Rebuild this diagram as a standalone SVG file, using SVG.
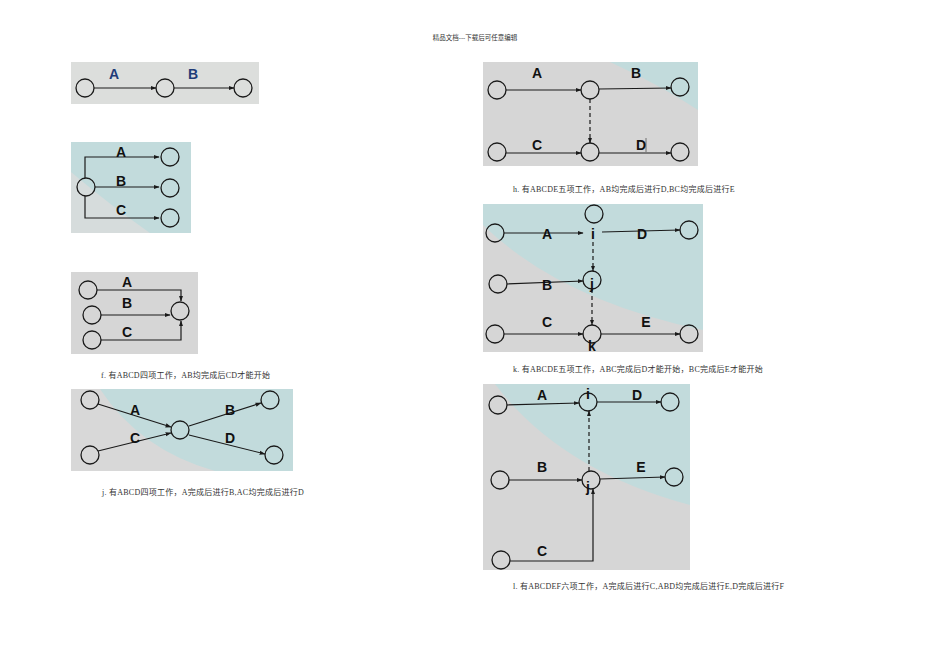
<svg xmlns="http://www.w3.org/2000/svg" width="950" height="672" viewBox="0 0 950 672">
<style>
.n{fill:none;stroke:#1a1a1a;stroke-width:1.3}
.e{fill:none;stroke:#1a1a1a;stroke-width:1.2}
.d{fill:none;stroke:#1a1a1a;stroke-width:1.2;stroke-dasharray:4 3}
.l{font-family:"Liberation Sans",Arial,sans-serif;font-weight:bold;font-size:14px;fill:#111;text-anchor:middle}
.lb{font-family:"Liberation Sans",Arial,sans-serif;font-weight:bold;font-size:14px;fill:#1f3c78;text-anchor:middle}
.c{font-family:"Liberation Serif","Noto Sans CJK SC",serif;font-size:8px;letter-spacing:0.25px;fill:#333}
.t{fill:#c2dbdc}
</style>
<defs>
<marker id="a" viewBox="0 0 10 10" refX="9" refY="5" markerWidth="6" markerHeight="6" orient="auto-start-reverse" markerUnits="userSpaceOnUse"><path d="M0,1.5 L10,5 L0,8.5 z" fill="#1a1a1a"/></marker>
<clipPath id="c2"><rect x="71" y="142" width="120" height="91"/></clipPath>
<clipPath id="c4"><rect x="71" y="389" width="222" height="82"/></clipPath>
<clipPath id="c5"><rect x="483" y="62" width="215" height="104"/></clipPath>
<clipPath id="c6"><rect x="483" y="204" width="220" height="148"/></clipPath>
<clipPath id="c7"><rect x="483" y="384" width="207" height="186"/></clipPath>
</defs>
<rect width="950" height="672" fill="#fff"/>
<text x="475" y="40" class="c" text-anchor="middle" style="font-size:6.5px;letter-spacing:0">精品文档---下载后可任意编辑</text>

<!-- Panel 1 -->
<g id="p1">
<rect x="71" y="62" width="188" height="42" fill="#dcdedc"/>
<g id="p1n1"><circle cx="85" cy="88" r="9" class="n"/></g>
<g id="p1n2"><circle cx="165" cy="88" r="9" class="n"/></g>
<g id="p1n3"><circle cx="243" cy="88" r="9" class="n"/></g>
<g id="p1e">
<path d="M94,88 H156" class="e" marker-end="url(#a)"/>
<path d="M174,88 H234" class="e" marker-end="url(#a)"/>
</g>
<text x="114" y="79" class="lb">A</text>
<text x="193" y="79" class="lb">B</text>
</g>

<!-- Panel 2 -->
<g id="p2">
<g clip-path="url(#c2)">
<rect x="71" y="142" width="120" height="91" class="t"/>
<path d="M71,172 Q110,205 150,233 L71,233 Z" fill="#d6dcdc"/>
</g>
<g id="p2n1"><circle cx="86" cy="187" r="9" class="n"/></g>
<g id="p2n2"><circle cx="170" cy="157" r="9" class="n"/></g>
<g id="p2n3"><circle cx="170" cy="188" r="9" class="n"/></g>
<g id="p2n4"><circle cx="170" cy="218" r="9" class="n"/></g>
<g id="p2e">
<path d="M85,178 V157 H159" class="e" marker-end="url(#a)"/>
<path d="M95,187 H159" class="e" marker-end="url(#a)"/>
<path d="M85,196 V218 H159" class="e" marker-end="url(#a)"/>
</g>
<text x="121" y="157" class="l">A</text>
<text x="121" y="186" class="l">B</text>
<text x="121" y="215" class="l">C</text>
</g>

<!-- Panel 3 -->
<g id="p3">
<rect x="71" y="272" width="127" height="82" fill="#d6d6d6"/>
<g id="p3n1"><circle cx="88" cy="290" r="9" class="n"/></g>
<g id="p3n2"><circle cx="92" cy="315" r="9" class="n"/></g>
<g id="p3n3"><circle cx="92" cy="340" r="9" class="n"/></g>
<g id="p3n4"><circle cx="180" cy="311" r="9" class="n"/></g>
<g id="p3e">
<path d="M97,290 H181 V301" class="e" marker-end="url(#a)"/>
<path d="M101,315 H170" class="e" marker-end="url(#a)"/>
<path d="M101,340 H181 V321" class="e" marker-end="url(#a)"/>
</g>
<text x="127" y="287" class="l">A</text>
<text x="127" y="308" class="l">B</text>
<text x="127" y="337" class="l">C</text>
<text x="101" y="378" class="c">f.  有ABCD四项工作，AB均完成后CD才能开始</text>
</g>

<!-- Panel 4 -->
<g id="p4">
<g clip-path="url(#c4)">
<rect x="71" y="389" width="222" height="82" fill="#d8d8d8"/>
<path d="M100,389 Q140,450 215,471 L293,471 L293,389 Z" class="t"/>
</g>
<g id="p4n1"><circle cx="90" cy="400" r="9" class="n"/></g>
<g id="p4n2"><circle cx="90" cy="455" r="9" class="n"/></g>
<g id="p4n3"><circle cx="180" cy="430" r="9" class="n"/></g>
<g id="p4n4"><circle cx="270" cy="400" r="9" class="n"/></g>
<g id="p4n5"><circle cx="274" cy="455" r="9" class="n"/></g>
<g id="p4e">
<path d="M98,404 L171,427" class="e" marker-end="url(#a)"/>
<path d="M98,451 L171,433" class="e" marker-end="url(#a)"/>
<path d="M189,426 L261,403" class="e" marker-end="url(#a)"/>
<path d="M189,435 L265,454" class="e" marker-end="url(#a)"/>
</g>
<text x="135" y="415" class="l">A</text>
<text x="135" y="443" class="l">C</text>
<text x="230" y="415" class="l">B</text>
<text x="230" y="443" class="l">D</text>
<text x="102" y="495" class="c">j.  有ABCD四项工作，A完成后进行B,AC均完成后进行D</text>
</g>

<!-- Panel 5 -->
<g id="p5">
<g clip-path="url(#c5)">
<rect x="483" y="62" width="215" height="104" fill="#d6d6d6"/>
<path d="M610,62 Q660,85 698,110 L698,62 Z" class="t"/>
</g>
<g id="p5n1"><circle cx="497" cy="90" r="9" class="n"/></g>
<g id="p5n2"><circle cx="590" cy="90" r="9" class="n"/></g>
<g id="p5n3"><circle cx="680" cy="87" r="9" class="n"/></g>
<g id="p5n4"><circle cx="497" cy="152" r="9" class="n"/></g>
<g id="p5n5"><circle cx="590" cy="152" r="9" class="n"/></g>
<g id="p5n6"><circle cx="680" cy="152" r="9" class="n"/></g>
<g id="p5e">
<path d="M506,90 H581" class="e" marker-end="url(#a)"/>
<path d="M599,89 L671,88" class="e" marker-end="url(#a)"/>
<path d="M590,99 V143" class="d" marker-end="url(#a)"/>
<path d="M506,153 H581" class="e" marker-end="url(#a)"/>
<path d="M599,153 H671" class="e" marker-end="url(#a)"/>
</g>
<line x1="646" y1="138" x2="646" y2="152" stroke="#555" stroke-width="0.8"/>
<text x="537" y="78" class="l">A</text>
<text x="636" y="78" class="l">B</text>
<text x="537" y="150" class="l">C</text>
<text x="641" y="150" class="l">D</text>
<text x="513" y="192" class="c">h.  有ABCDE五项工作，AB均完成后进行D,BC均完成后进行E</text>
</g>

<!-- Panel 6 -->
<g id="p6">
<g clip-path="url(#c6)">
<rect x="483" y="204" width="220" height="148" fill="#d6d6d6"/>
<path d="M483,204 L483,225 Q560,300 703,330 L703,204 Z" class="t"/>
</g>
<g id="p6n1"><circle cx="495" cy="233" r="9" class="n"/></g>
<g id="p6n2"><circle cx="594" cy="214" r="9" class="n"/></g>
<g id="p6n3"><circle cx="689" cy="230" r="9" class="n"/></g>
<g id="p6n4"><circle cx="498" cy="284" r="9" class="n"/></g>
<g id="p6n5"><circle cx="592" cy="280" r="9" class="n"/></g>
<g id="p6n6"><circle cx="495" cy="334" r="9" class="n"/></g>
<g id="p6n7"><circle cx="592" cy="334" r="9" class="n"/></g>
<g id="p6n8"><circle cx="689" cy="334" r="9" class="n"/></g>
<g id="p6e">
<path d="M504,233 H583" class="e" marker-end="url(#a)"/>
<path d="M602,232 L680,230" class="e" marker-end="url(#a)"/>
<path d="M593,242 V271" class="d" marker-end="url(#a)"/>
<path d="M507,284 L583,281" class="e" marker-end="url(#a)"/>
<path d="M592,289 V325" class="d" marker-end="url(#a)"/>
<path d="M504,334 H583" class="e" marker-end="url(#a)"/>
<path d="M601,334 H680" class="e" marker-end="url(#a)"/>
</g>
<text x="547" y="239" class="l">A</text>
<text x="642" y="239" class="l">D</text>
<text x="547" y="290" class="l">B</text>
<text x="547" y="327" class="l">C</text>
<text x="646" y="327" class="l">E</text>
<text x="593" y="239" class="l">i</text>
<text x="592" y="289" class="l">j</text>
<text x="592" y="351" class="l">k</text>
<text x="513" y="372" class="c">k.  有ABCDE五项工作，ABC完成后D才能开始，BC完成后E才能开始</text>
</g>

<!-- Panel 7 -->
<g id="p7">
<g clip-path="url(#c7)">
<rect x="483" y="384" width="207" height="186" fill="#d6d6d6"/>
<path d="M495,384 Q560,470 690,505 L690,384 Z" class="t"/>
</g>
<g id="p7n1"><circle cx="498" cy="405" r="9" class="n"/></g>
<g id="p7n2"><circle cx="588" cy="402" r="9" class="n"/></g>
<g id="p7n3"><circle cx="670" cy="402" r="9" class="n"/></g>
<g id="p7n4"><circle cx="500" cy="480" r="9" class="n"/></g>
<g id="p7n5"><circle cx="591" cy="480" r="9" class="n"/></g>
<g id="p7n6"><circle cx="674" cy="477" r="9" class="n"/></g>
<g id="p7n7"><circle cx="501" cy="560" r="9" class="n"/></g>
<g id="p7e">
<path d="M507,405 L579,403" class="e" marker-end="url(#a)"/>
<path d="M597,402 H661" class="e" marker-end="url(#a)"/>
<path d="M509,480 H582" class="e" marker-end="url(#a)"/>
<path d="M600,479 L665,477" class="e" marker-end="url(#a)"/>
<path d="M510,561 H593 V489" class="e" marker-end="url(#a)"/>
<path d="M589,471 V411" class="d" marker-end="url(#a)"/>
</g>
<text x="542" y="400" class="l">A</text>
<text x="637" y="400" class="l">D</text>
<text x="542" y="472" class="l">B</text>
<text x="641" y="472" class="l">E</text>
<text x="542" y="556" class="l">C</text>
<text x="588" y="399" class="l">i</text>
<text x="588" y="492" class="l">j</text>
<text x="513" y="589" class="c">l.  有ABCDEF六项工作，A完成后进行C,ABD均完成后进行E,D完成后进行F</text>
</g>
</svg>
